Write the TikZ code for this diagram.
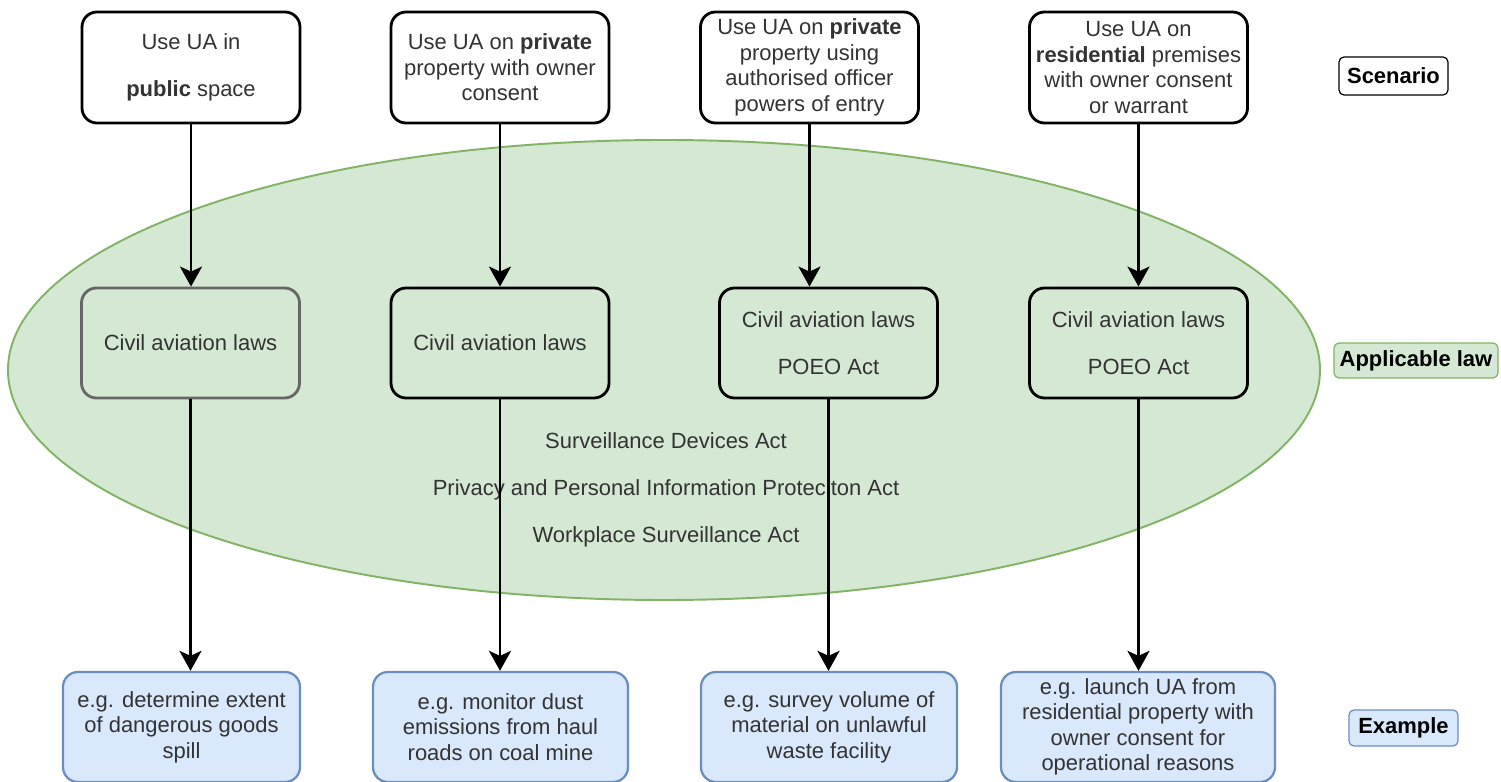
\documentclass[tikz,border=0pt]{standalone}
\usepackage{fontspec}
\setmainfont{Liberation Sans}
\usetikzlibrary{shapes.geometric, positioning, arrows.meta}
\definecolor{lawfill}{HTML}{D5E8D4}
\definecolor{lawline}{HTML}{82B366}
\definecolor{lawgrey}{HTML}{666666}
\definecolor{egfill}{HTML}{DAE8FC}
\definecolor{egline}{HTML}{6C8EBF}
\definecolor{textgrey}{HTML}{333333}
\tikzset{every node/.style={font=\fontsize{12.5}{14.5}\selectfont, text=textgrey},
         scenario/.style={draw, line width=1.6pt, rounded corners=3mm, fill=white, align=center, minimum width=4.36cm, minimum height=2.22cm, inner sep=0pt},
         lawbox/.style={scenario, fill=lawfill, minimum height=2.2cm},
         usecase/.style={draw=egline, line width=1.3pt, fill=egfill, rounded corners=3mm, align=center, minimum height=2.2cm, inner sep=0pt},
         keytag/.style={draw, line width=0.7pt, rounded corners=1mm, font=\fontsize{12.5}{14.5}\selectfont\bfseries, text=black, inner sep=0pt},
         zone/.style={ellipse, draw=lawline, line width=1.1pt, fill=lawfill, minimum width=26.24cm, minimum height=9.2cm},
         flow/.style={->, line width=1.6pt},
         >={Stealth[length=4mm,width=4.4mm,inset=1mm]}
        }

\begin{document}
\begin{tikzpicture}[x=0.2mm, y=-0.2mm]
        \useasboundingbox (0,0) rectangle (1501,782);
        \node[zone](zone)at(664,370){};

        % scenarios
        \node[scenario](s1)at(191,67.5){Use UA in\\[12pt]\textbf{public} space};
        \node[scenario](s2)at(500,67.5){Use UA on \textbf{private}\\property with owner\\consent};
        \node[scenario](s3)at(809.5,67.5){Use UA on \textbf{private}\\property using\\authorised officer\\powers of entry};
        \node[scenario](s4)at(1138.5,67.5){Use UA on\\\textbf{residential} premises\\with owner consent\\or warrant};

        % applicable law
        \node[lawbox, draw=lawgrey](l1)at(190.5,343){Civil aviation laws};
        \node[lawbox](l2)at(500,343){Civil aviation laws};
        \node[lawbox](l3)at(828.5,343){Civil aviation laws\\[12pt]POEO Act};
        \node[lawbox](l4)at(1138.5,343){Civil aviation laws\\[12pt]POEO Act};

        \node(a1)at(666,441){Surveillance Devices Act};
        \node(a2)at(666,490){Privacy and Personal Information Proteciton Act};
        \node(a3)at(666,537){Workplace Surveillance Act};

        % examples
        \node[usecase, minimum width=4.74cm](e1)at(181.5,727){e.g. determine extent\\of dangerous goods\\spill};
        \node[usecase, minimum width=5.1cm](e2)at(500.5,727){e.g. monitor dust\\emissions from haul\\roads on coal mine};
        \node[usecase, minimum width=5.12cm](e3)at(829,727){e.g. survey volume of\\material on unlawful\\waste facility};
        \node[usecase, minimum width=5.48cm](e4)at(1138,727){e.g. launch UA from\\residential property with\\owner consent for\\operational reasons};

        % key
        \node[keytag, fill=white, minimum width=2.18cm, minimum height=0.76cm](k1)at(1393.5,76){Scenario};
        \node[keytag, draw=lawline, fill=lawfill, minimum width=3.28cm, minimum height=0.7cm](k2)at(1416,360.5){Applicable law};
        \node[keytag, draw=egline, fill=egfill, minimum width=2.18cm, minimum height=0.72cm](k3)at(1403.5,728){Example};

        \draw[flow](s1.south)--(s1.south |- l1.north);
        \draw[flow](s2.south)--(s2.south |- l2.north);
        \draw[flow](s3.south)--(s3.south |- l3.north);
        \draw[flow](s4.south)--(s4.south |- l4.north);
        \draw[flow](l1.south)--(l1.south |- e1.north);
        \draw[flow](l2.south)--(l2.south |- e2.north);
        \draw[flow](l3.south)--(l3.south |- e3.north);
        \draw[flow](l4.south)--(l4.south |- e4.north);
\end{tikzpicture}
\end{document}
